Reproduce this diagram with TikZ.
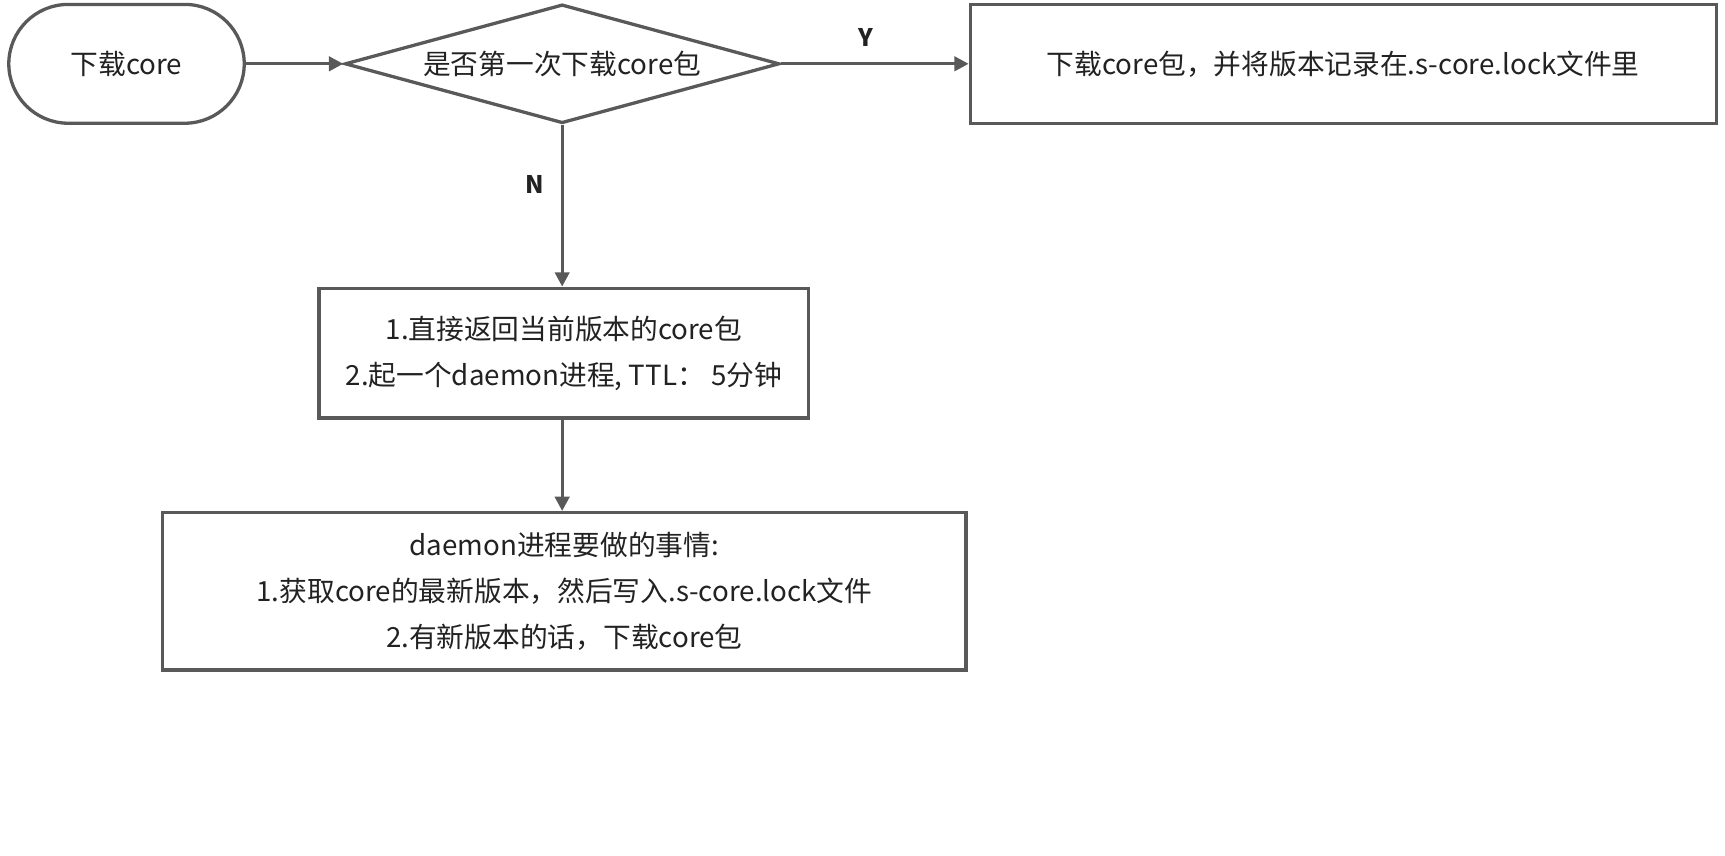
\documentclass[tikz,border=0pt]{standalone}
\usepackage{fontspec}
\setmainfont{Noto Sans CJK SC}
\usetikzlibrary{arrows.meta,shapes.geometric}
\definecolor{ln}{HTML}{595959}
\definecolor{tx}{HTML}{222222}
\tikzset{
  base/.style={draw=ln, line width=1.5pt, text=tx, inner sep=0pt, font=\fontsize{12.6}{21}\selectfont, align=center},
  term/.style={base, rounded corners=27pt, minimum width=107pt, minimum height=54pt},
  decide/.style={base, diamond, shape aspect=3.66, minimum width=197.5pt, minimum height=54pt},
  proc/.style={base, rectangle},
  conn/.style={draw=ln, line width=1.5pt, -{Triangle[length=6.5pt,width=6.5pt]}},
  lbl/.style={text=tx, font=\fontsize{11}{13}\selectfont\bfseries}
}
\begin{document}
\begin{tikzpicture}[x=0.5pt,y=-0.5pt]
\useasboundingbox (0,0) rectangle (1568,778);
\node[term] (start) at (115,58) {下载core};
\node[decide] (q) at (511,58) {是否第一次下载core包};
\node[proc, minimum width=339pt, minimum height=54pt] (yes) at (1221,58) {下载core包，并将版本记录在.s-core.lock文件里};
\node[proc, minimum width=222.5pt, minimum height=59pt] (ret) at (512.5,321) {1.直接返回当前版本的core包\\2.起一个daemon进程, TTL：~5分钟};
\node[proc, minimum width=365pt, minimum height=71.5pt] (dm) at (513,537.5) {daemon进程要做的事情:\\1.获取core的最新版本，然后写入.s-core.lock文件\\2.有新版本的话，下载core包};
\draw[conn] (start) -- (q);
\draw[conn] (q.east) -- (yes.west) node[lbl, pos=0.45, above=4pt] {Y};
\draw[conn] (q.south) -- (q.south |- ret.north) node[lbl, pos=0.37, left=4pt] {N};
\draw[conn] (ret.south -| q.south) -- (q.south |- dm.north);
\end{tikzpicture}
\end{document}
